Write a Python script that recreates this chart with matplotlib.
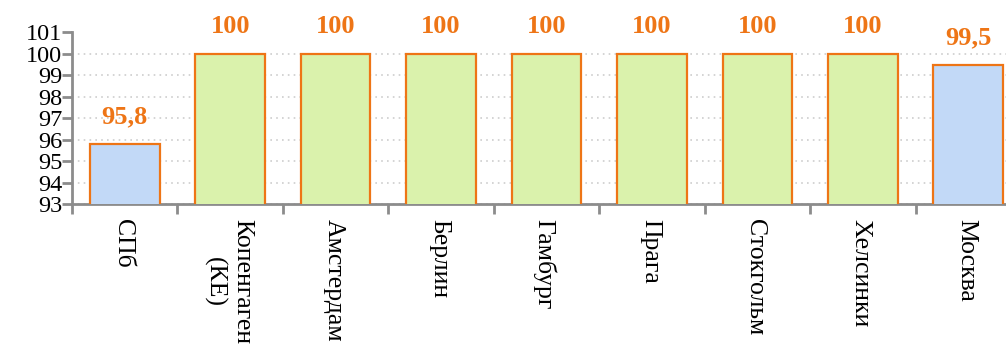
import matplotlib
matplotlib.use("Agg")
import matplotlib.pyplot as plt
from matplotlib.ticker import FixedLocator
from matplotlib.transforms import blended_transform_factory, offset_copy

categories = ["СПб", "Копенгаген\n(КЕ)", "Амстердам", "Берлин", "Гамбург",
              "Прага", "Стокгольм", "Хелсинки", "Москва"]
values = [95.8, 100, 100, 100, 100, 100, 100, 100, 99.5]
labels = ["95,8", "100", "100", "100", "100", "100", "100", "100", "99,5"]
colors = ["#C2D9F7", "#DAF2AC", "#DAF2AC", "#DAF2AC", "#DAF2AC",
          "#DAF2AC", "#DAF2AC", "#DAF2AC", "#C2D9F7"]
y_ticks = list(range(93, 102))

plt.rcParams['font.family'] = ['Liberation Serif', 'DejaVu Serif']

fig = plt.figure(figsize=(10.06, 3.51), dpi=100)
left = 72 / 1006
width = 949 / 1006
top = 1 - 32.5 / 351
bottom = 1 - 204 / 351
ax = fig.add_axes([left, bottom, width, top - bottom])

x = list(range(len(categories)))
ax.bar(x, values, width=0.66, color=colors, edgecolor="#EE7516",
       linewidth=1.6, zorder=3, bottom=0)
ax.set_ylim(93, 101)
ax.set_xlim(-0.5, len(categories) - 0.5)
ax.set_yticks(y_ticks)
ax.set_yticklabels([str(v) for v in y_ticks], fontsize=17.5)
ax.yaxis.grid(True, linestyle=(0, (1, 2.5)), color="#CDCDCD", linewidth=1.2, zorder=0)
ax.set_axisbelow(True)

ax.xaxis.set_major_locator(FixedLocator([i - 0.5 for i in range(len(categories) + 1)]))
ax.set_xticklabels([])
ax.tick_params(axis='x', which='major', length=7, width=2, color="#8C8C8C", direction='out')
ax.tick_params(axis='y', length=7, width=2, color="#8C8C8C", pad=0)

base = blended_transform_factory(ax.transData, ax.transAxes)
line_step = 28  # px between lines of a multi-line label
first_texts = []
for xi, cat in zip(x, categories):
    lines = cat.split("\n")
    n = len(lines)
    shift = (n - 1) * line_step / 2.0
    tr = offset_copy(base, fig=fig, x=shift - 2, y=-15, units='dots')
    t = ax.text(xi, 0, lines[0], transform=tr, rotation=-90, fontsize=18.5,
                va='top', ha='center', clip_on=False)
    first_texts.append((t, xi, lines[1:], shift))

fig.canvas.draw()
renderer = fig.canvas.get_renderer()
for t, xi, rest, shift in first_texts:
    if not rest:
        continue
    bb = t.get_window_extent(renderer)
    cy_disp = (bb.y0 + bb.y1) / 2.0
    ax_bb = ax.get_window_extent(renderer)
    for k, line in enumerate(rest, start=1):
        tr = offset_copy(base, fig=fig, x=shift - 2 - k * line_step,
                         y=cy_disp - ax_bb.y0, units='dots')
        ax.text(xi, 0, line, transform=tr, rotation=-90, fontsize=18.5,
                va='center', ha='center', clip_on=False)

for s in ["top", "right"]:
    ax.spines[s].set_visible(False)
for s in ["left", "bottom"]:
    ax.spines[s].set_color("#8C8C8C")
    ax.spines[s].set_linewidth(2)

for xi, v, lab in zip(x, values, labels):
    ax.annotate(lab, (xi, v), xytext=(0, 19.5), textcoords="offset points",
                ha="center", va="center", fontsize=19, fontweight="bold",
                color="#EE7516", annotation_clip=False)

fig.savefig("out.png", dpi=100)
